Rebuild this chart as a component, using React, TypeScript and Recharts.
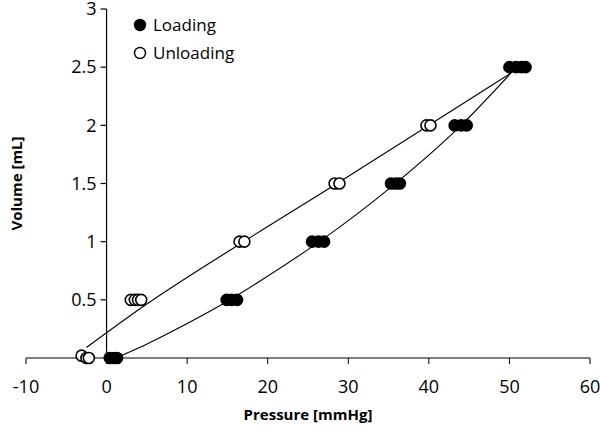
import React from 'react'
import { ScatterChart, Scatter, XAxis, YAxis, ReferenceLine } from 'recharts'

const xTicks = [-10, 0, 10, 20, 30, 40, 50, 60]
const yTicks = [0.5, 1, 1.5, 2, 2.5, 3]

// measured points
const loadingPressure = [0.4, 0.9, 1.3, 14.9, 15.5, 16.2, 25.5, 26.3, 27.0, 35.3, 35.9, 36.4, 43.2, 44.0, 44.7, 50.0, 50.8, 51.5, 52.0]
const loadingVolume = [0, 0, 0, 0.5, 0.5, 0.5, 1, 1, 1, 1.5, 1.5, 1.5, 2, 2, 2, 2.5, 2.5, 2.5, 2.5]
const unloadingPressure = [-3.1, -2.5, -2.2, 3.0, 3.5, 3.9, 4.3, 16.5, 17.1, 28.3, 28.9, 39.7, 40.2]
const unloadingVolume = [0.02, 0, 0, 0.5, 0.5, 0.5, 0.5, 1, 1, 1.5, 1.5, 2, 2]

// fitted curves
const loadingFitPressure = [1.8, 4.1, 9, 14.3, 19, 26.2, 35.5, 44, 50.2]
const loadingFitVolume = [0.02, 0.09, 0.26, 0.46, 0.66, 0.99, 1.48, 2.0, 2.45]
const unloadingFitPressure = [-2.5, 4.5, 17, 28.6, 40, 50.2]
const unloadingFitVolume = [0.09, 0.44, 1.0, 1.5, 2.0, 2.45]

const seriesNames = ['Loading', 'Unloading']

const zip = (xs: number[], ys: number[]) => xs.map((x, i) => ({ x, y: ys[i] }))

const loading = zip(loadingPressure, loadingVolume)
const unloading = zip(unloadingPressure, unloadingVolume)
const loadingFit = zip(loadingFitPressure, loadingFitVolume)
const unloadingFit = zip(unloadingFitPressure, unloadingFitVolume)

const W = 600
const H = 431
const Y_AXIS_W = 1
const margin = { top: 9, right: 10, bottom: 14, left: 25 }
const X_MIN = -10
const X_MAX = 60
const plotLeft = margin.left + Y_AXIS_W
const plotW = W - plotLeft - margin.right
// y axis crosses at pressure = 0
const yAxisX = plotLeft + (plotW * (0 - X_MIN)) / (X_MAX - X_MIN)

const FONT = '"Open Sans", sans-serif'

const YTick = (props: any) => {
  const { y, payload } = props
  return (
    <g>
      <line x1={yAxisX - 6} y1={y} x2={yAxisX} y2={y} stroke="#000" strokeWidth={1.2} />
      <text x={yAxisX - 10} y={y} dy="0.35em" textAnchor="end" fontSize={18} fontFamily={FONT} fill="#000">
        {payload.value}
      </text>
    </g>
  )
}

const Dot = (filled: boolean) => (p: any) => (
  <circle cx={p.cx} cy={p.cy} r={5.5} fill={filled ? '#000' : '#fff'} stroke="#000" strokeWidth={1.6} />
)

const NoDot = () => <g />

export default function App() {
  return (
    <div style={{ position: 'absolute', left: 0, top: 0, width: W, height: H, background: '#fff' }}>
      <ScatterChart width={W} height={H} margin={margin}>
        <XAxis
          type="number"
          dataKey="x"
          domain={[X_MIN, X_MAX]}
          ticks={xTicks}
          interval={0}
          allowDataOverflow
          height={59}
          stroke="#000"
          tickSize={6}
          tickMargin={16}
          tick={{ fontSize: 18, fontFamily: FONT, fill: '#000' }}
          label={{
            value: 'Pressure [mmHg]',
            position: 'insideBottom',
            offset: -3,
            style: { fontSize: 15, fontWeight: 700, fontFamily: FONT, fill: '#000' },
          }}
        />
        <YAxis
          type="number"
          dataKey="y"
          domain={[0, 3]}
          ticks={yTicks}
          interval={0}
          width={Y_AXIS_W}
          axisLine={false}
          tickLine={false}
          tick={<YTick />}
          label={{
            value: 'Volume [mL]',
            angle: -90,
            position: 'left',
            offset: 8,
            style: { textAnchor: 'middle', fontSize: 15, fontWeight: 700, fontFamily: FONT, fill: '#000' },
          }}
        />
        <ReferenceLine x={0} stroke="#000" strokeWidth={1.2} />
        <Scatter
          name="loadingFit"
          data={loadingFit}
          line={{ stroke: '#000', strokeWidth: 1.1 }}
          lineType="joint"
          lineJointType="monotoneX"
          shape={NoDot}
          legendType="none"
          isAnimationActive={false}
        />
        <Scatter
          name="unloadingFit"
          data={unloadingFit}
          line={{ stroke: '#000', strokeWidth: 1.1 }}
          lineType="joint"
          lineJointType="monotoneX"
          shape={NoDot}
          legendType="none"
          isAnimationActive={false}
        />
        <Scatter name="Unloading" data={unloading} shape={Dot(false)} isAnimationActive={false} />
        <Scatter name="Loading" data={loading} shape={Dot(true)} isAnimationActive={false} />
      </ScatterChart>
      <div
        style={{
          position: 'absolute',
          left: 132,
          top: 11,
          fontFamily: FONT,
          fontSize: 17,
          color: '#000',
          lineHeight: '28px',
        }}
      >
        {seriesNames.map((name, i) => (
          <div key={name} style={{ display: 'flex', alignItems: 'center' }}>
            <svg width={16} height={16} style={{ marginRight: 5 }}>
              <circle cx={8} cy={8} r={5.5} fill={i === 0 ? '#000' : '#fff'} stroke="#000" strokeWidth={1.4} />
            </svg>
            <span>{name}</span>
          </div>
        ))}
      </div>
    </div>
  )
}
